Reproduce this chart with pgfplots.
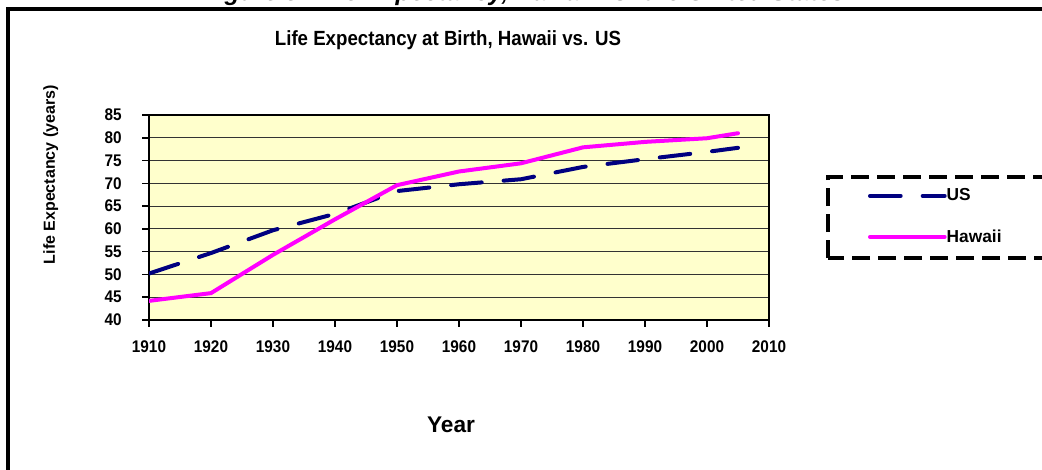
\documentclass[border=0pt]{standalone}
\usepackage{pgfplots}
\pgfplotsset{compat=1.18}
\usepackage{fontspec}
\setmainfont{Liberation Sans}
\definecolor{usnavy}{RGB}{0,0,128}
\definecolor{himag}{RGB}{255,0,255}
\definecolor{plotbg}{RGB}{255,255,204}

\begin{document}
\begin{tikzpicture}[x=0.75pt,y=0.75pt]
\useasboundingbox (0,0) rectangle (1042,469);
\clip (0,0) rectangle (1042,469);

% cut-off caption at the very top
\node[anchor=base, inner sep=0pt, font=\fontsize{18.5}{20}\selectfont\bfseries\itshape]
  at (524,468.5) {Figure 3. Life Expectancy, Hawaii vs. the United States};
% outer frame (runs past the right and bottom edges)
\draw[line width=3pt] (8,-20) rectangle (1070,460);

\node[font=\fontsize{14}{16}\selectfont\bfseries, yscale=1.1] at (448,429)
  {Life Expectancy at Birth, Hawaii vs. US};

\begin{axis}[
  at={(111.75pt,111.75pt)}, anchor=south west,
  scale only axis, width=465pt, height=153.75pt,
  xmin=1910, xmax=2010, ymin=40, ymax=85,
  xtick={1910,1920,...,2010}, ytick={40,45,...,85},
  tick align=outside, major tick length=5pt,
  tick style={black, line width=1.2pt},
  xtick pos=bottom, ytick pos=left,
  ymajorgrids, grid style={black!80, line width=0.9pt},
  axis line style={black, line width=1.3pt},
  axis background/.style={fill=plotbg},
  /pgf/number format/assume math mode=true,
  /pgf/number format/1000 sep={},
  every tick label/.append style={font=\fontsize{11.5}{13}\selectfont\bfseries, yscale=1.1},
  yticklabel style={xshift=-12pt},
  xticklabel style={yshift=-6pt},
  xlabel={Year},
  xlabel style={font=\fontsize{17}{19}\selectfont\bfseries, yshift=-41pt, xshift=-6pt},
  ylabel={Life Expectancy (years)},
  ylabel style={font=\fontsize{12}{14}\selectfont\bfseries, yshift=28pt, xshift=32pt},
  legend style={draw=none, fill=none, inner sep=0pt, outer sep=0pt,
    nodes={inner sep=0pt, anchor=west}, row sep=20pt,
    font=\fontsize{13}{15}\selectfont\bfseries,
    at={(1.1597,0.505)}, anchor=west},
  legend cell align=left,
  legend image code/.code={\draw[#1] (0pt,0pt) -- (56pt,0pt);},
]
\addplot[usnavy, line width=3pt, line cap=round, dash pattern=on 23pt off 16.5pt]
  coordinates {
  (1910,50.2) (1920,54.7) (1930,59.7) (1940,63.3) (1950,68.3) (1960,69.8)
  (1970,70.9) (1980,73.6) (1990,75.3) (2000,76.9) (2005,77.8)
};
\addlegendentry{US}
\addplot[himag, solid, line width=3pt, line cap=round]
  coordinates {
  (1910,44.2) (1920,45.9) (1930,54.3) (1940,62.1) (1950,69.6) (1960,72.6)
  (1970,74.4) (1980,77.9) (1990,79.1) (2000,79.9) (2005,81.0)
};
\addlegendentry{Hawaii}
\end{axis}

% dashed legend frame (runs past the right edge)
\draw[line width=2.3pt, dash pattern=on 13.5pt off 6pt] (828,211) rectangle (1080,292);
\end{tikzpicture}
\end{document}
